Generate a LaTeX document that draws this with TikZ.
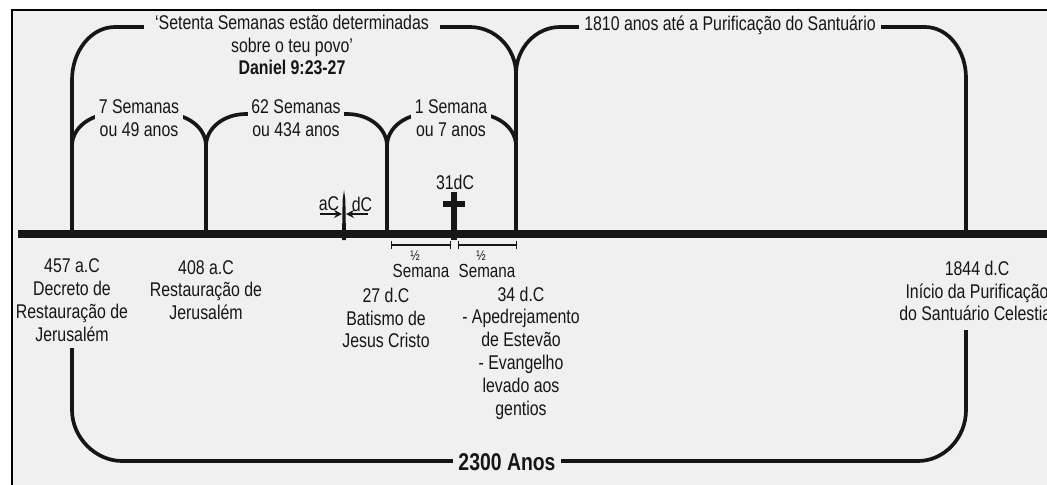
\documentclass[tikz,border=0pt]{standalone}
\usepackage{fontspec}
\setmainfont{Liberation Sans}[FakeStretch=0.8]
\usepackage{xcolor}
\usetikzlibrary{positioning,arrows.meta}
\definecolor{bg}{HTML}{F0F0F0}
\definecolor{ink}{HTML}{161616}

\begin{document}
\begin{tikzpicture}[x=0.02cm,y=-0.02cm]
    \tikzstyle{label_style} = [align=center,text=ink,font=\fontsize{11.3}{13}\selectfont,inner sep=1pt]
    \tikzstyle{tag_style} = [label_style,fill=bg,inner sep=2pt]
    \tikzstyle{arch_style} = [draw=ink,line width=2.1pt]
    \tikzstyle{tick_style} = [draw=ink,line width=1.8pt]
    \tikzstyle{half_style} = [draw=ink,line width=0.8pt,{Bar[width=4pt]}-{Bar[width=4pt]}]
    \useasboundingbox (0,0) rectangle (1047,484);
    \clip (0,0) rectangle (1047,484);
    \fill[white] (0,0) rectangle (1047,484);
    \draw[fill=bg,line width=1.1pt] (12,10) rectangle (1060,500);
        \coordinate (tl_start) at (18,234);
        \coordinate (tl_end) at (1060,234);
        \coordinate (t457) at (72,234);
        \coordinate (t408) at (206,234);
        \coordinate (t27) at (387,234);
        \coordinate (t34) at (516,234);
        \coordinate (t1844) at (966,234);
        \draw[draw=ink,line width=5.1pt] (tl_start) -- (tl_end);
        \draw[arch_style] (t457) -- (72,80) .. controls (72,51) and (91,27) .. (115,27) -- (470,27) .. controls (495,27) and (516,48) .. (516,74) -- (t34);
        \draw[arch_style] (516,74) .. controls (516,48) and (536,27) .. (560,27) -- (925,27) .. controls (948,27) and (966,50) .. (966,78) -- (t1844);
        \foreach \a/\b in {72/206,206/387,387/516}
            \draw[arch_style] (\a,146) .. controls (\a,128) and (\a+18,114) .. (\a+40,114) -- (\b-40,114) .. controls (\b-18,114) and (\b,128) .. (\b,146);
        \draw[tick_style] (206,146) -- (t408);
        \draw[tick_style] (387,146) -- (t27);
        \draw[arch_style] (72,348) -- (72,410) .. controls (72,438) and (96,461) .. (122,461) -- (918,461) .. controls (944,461) and (966,438) .. (966,410) -- (966,330);
        \node[tag_style,inner xsep=0.22cm] (setenta) at (292,45) {‘Setenta Semanas estão determinadas\\sobre o teu povo’\\\textbf{Daniel 9:23-27}};
        \node[tag_style,inner xsep=3pt] (purif) at (730,25) {1810 anos até a Purificação do Santuário};
        \node[tag_style] (sem7) at (139,118) {7 Semanas\\ou 49 anos};
        \node[tag_style] (sem62) at (296,118) {62 Semanas\\ou 434 anos};
        \node[tag_style] (sem1) at (451,118) {1 Semana\\ou 7 anos};
        \node[label_style] (d457) at (72,300) {457 a.C\\Decreto de\\Restauração de\\Jerusalém};
        \node[label_style] (d408) at (206,290) {408 a.C\\Restauração de\\Jerusalém};
        \node[label_style] (d27) at (386,318) {27 d.C\\Batismo de\\Jesus Cristo};
        \node[label_style] (d34) at (521,353) {34 d.C\\- Apedrejamento\\de Estevão\\- Evangelho\\levado aos\\gentios};
        \node[label_style] (d1844) at (977,291) {1844 d.C\\Início da Purificação\\do Santuário Celestial};
        \node[tag_style,font=\bfseries\fontsize{13.8}{15}\selectfont,inner xsep=3pt] (total) at (507,462) {2300 Anos};
        \coordinate (h1a) at (391,245);
        \coordinate (h1b) at (451,245);
        \coordinate (h2a) at (458,245);
        \coordinate (h2b) at (517,245);
        \draw[half_style] (h1a) -- (h1b);
        \draw[half_style] (h2a) -- (h2b);
        \node[label_style,font=\fontsize{10.8}{12}\selectfont] (half1) at (421,271) {Semana};
        \node[label_style,font=\fontsize{8}{8}\selectfont] (frac1) at (415,256) {½};
        \node[label_style,font=\fontsize{10.8}{12}\selectfont] (half2) at (487,271) {Semana};
        \node[label_style,font=\fontsize{8}{8}\selectfont] (frac2) at (481,256) {½};
        \fill[ink] (451,192) rectangle (457,240);
        \fill[ink] (443,201) rectangle (465,207);
        \node[label_style] (cross) at (455,182) {31dC};
        \fill[ink] (342,240) -- (342.6,200) -- (344,190) -- (345.4,200) -- (346,240) -- cycle;
        \node[label_style] (ac) at (329,204) {aC};
        \node[label_style] (dc) at (362,204) {dC};
        \draw[ink,line width=1.2pt,-{Stealth[length=4.5pt,width=4.5pt]}] (320,214) -- (342,214);
        \draw[ink,line width=1.2pt,-{Stealth[length=4.5pt,width=4.5pt]}] (368,214) -- (346,214);
\end{tikzpicture}
\end{document}
